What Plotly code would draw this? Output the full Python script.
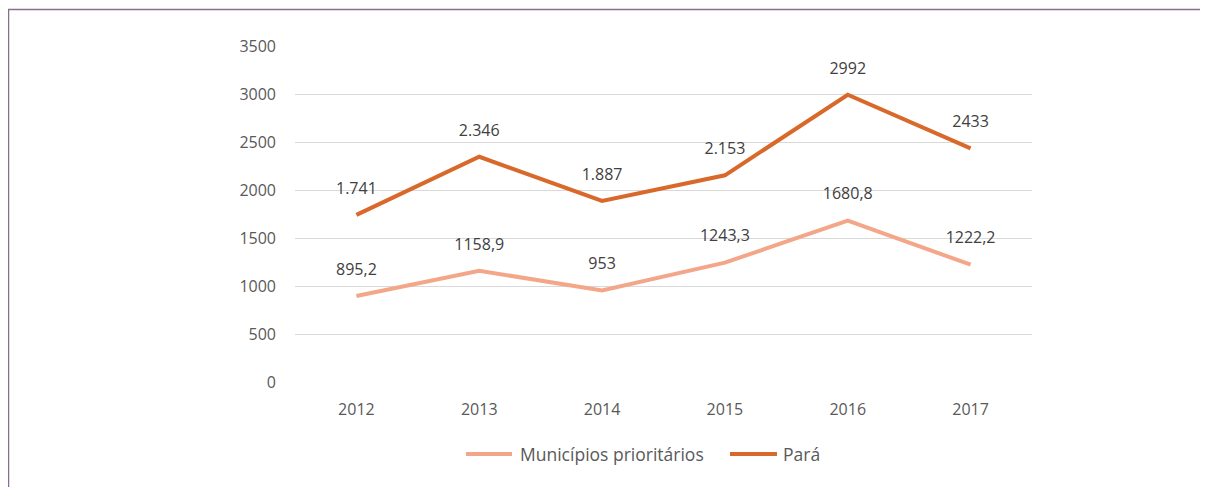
import plotly.graph_objects as go

years = ["2012", "2013", "2014", "2015", "2016", "2017"]
municipios = [895.2, 1158.9, 953, 1243.3, 1680.8, 1222.2]
municipios_labels = ["895,2", "1158,9", "953", "1243,3", "1680,8", "1222,2"]
para = [1741, 2346, 1887, 2153, 2992, 2433]
para_labels = ["1.741", "2.346", "1.887", "2.153", "2992", "2433"]
y_ticks = [0, 500, 1000, 1500, 2000, 2500, 3000, 3500]
series_names = ["Municípios prioritários", "Pará"]

FONT = "Open Sans"
C_MUN = "#f4a688"
C_PARA = "#d8692b"

# page body has an 8px margin, so the figure is placed at (8, 8)
W, H = 1200, 479
L, T, PW, PH = 287, 38, 737, 336


def px(fx):
    return (fx - L) / PW


def py(fy):
    return (T + PH - fy) / PH


fig = go.Figure()
fig.add_trace(go.Scatter(x=years, y=municipios, mode="lines", name=series_names[0],
                         line=dict(color=C_MUN, width=4), showlegend=False))
fig.add_trace(go.Scatter(x=years, y=para, mode="lines", name=series_names[1],
                         line=dict(color=C_PARA, width=4), showlegend=False))

# data labels
for ys, labs in [(municipios, municipios_labels), (para, para_labels)]:
    fig.add_trace(go.Scatter(x=years, y=ys, mode="markers+text", text=labs,
                             textposition="top center", showlegend=False, hoverinfo="skip",
                             marker=dict(size=26, color="rgba(0,0,0,0)"),
                             textfont=dict(family=FONT, size=16, color="#404040"),
                             cliponaxis=False))

# manual legend (longer line samples than plotly's built-in legend)
legend_y = 446
shapes = []
annotations = []
for name, color, (lx0, lx1, tx) in zip(series_names, [C_MUN, C_PARA],
                                        [(458, 504, 510), (722, 769, 773)]):
    shapes.append(dict(type="line", xref="paper", yref="paper",
                       x0=px(lx0), x1=px(lx1), y0=py(legend_y), y1=py(legend_y),
                       line=dict(color=color, width=4)))
    annotations.append(dict(xref="paper", yref="paper", x=px(tx), y=py(legend_y),
                            xanchor="left", yanchor="middle", text=name, showarrow=False,
                            font=dict(family=FONT, size=17.5, color="#595959")))

shapes.append(dict(type="rect", xref="paper", yref="paper",
                   x0=px(0.5), x1=px(1230), y0=py(520), y1=py(1.5),
                   line=dict(color="#8a6c90", width=1.5), fillcolor="rgba(0,0,0,0)",
                   layer="below"))

fig.update_layout(
    width=W, height=H,
    margin=dict(l=L, r=W - L - PW, t=T, b=H - T - PH, autoexpand=False),
    paper_bgcolor="white", plot_bgcolor="white",
    font=dict(family=FONT, size=16, color="#595959"),
    showlegend=False,
    xaxis=dict(type="category", range=[-0.5, 5.5], showgrid=False, zeroline=False,
               showline=False, ticks="", ticklabelstandoff=16,
               tickfont=dict(size=16, color="#595959")),
    yaxis=dict(range=[0, 3500], tickvals=y_ticks, showgrid=True, gridcolor="#d9d9d9",
               gridwidth=1, zeroline=False, showline=False, ticks="",
               ticklabelstandoff=18, tickfont=dict(size=16, color="#595959")),
    shapes=shapes,
    annotations=annotations,
)

fig.write_html("out.html")
